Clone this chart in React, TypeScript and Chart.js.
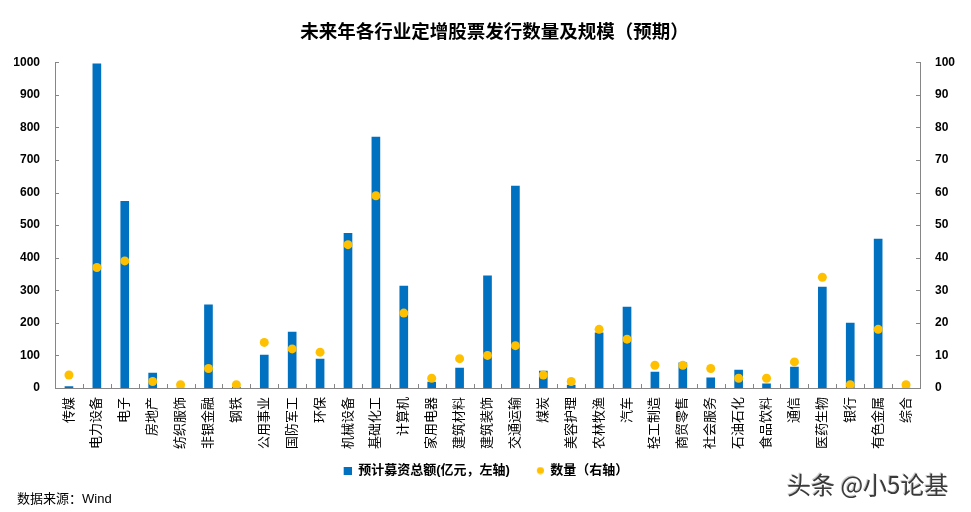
import React, { useEffect, useRef } from 'react';
import { Chart, registerables } from 'chart.js';

Chart.register(...registerables);

const TITLE = '未来年各行业定增股票发行数量及规模（预期）';
const categories = ['传媒', '电力设备', '电子', '房地产', '纺织服饰', '非银金融', '钢铁', '公用事业', '国防军工', '环保', '机械设备', '基础化工', '计算机', '家用电器', '建筑材料', '建筑装饰', '交通运输', '煤炭', '美容护理', '农林牧渔', '汽车', '轻工制造', '商贸零售', '社会服务', '石油石化', '食品饮料', '通信', '医药生物', '银行', '有色金属', '综合'];
const amounts = [4, 995, 573, 46, 0, 255, 3, 101, 172, 89, 475, 770, 313, 18, 61, 344, 620, 52, 9, 169, 248, 49, 77, 31, 55, 13, 64, 310, 199, 457, 0];
const counts = [4, 37, 39, 2, 1, 6, 1, 14, 12, 11, 44, 59, 23, 3, 9, 10, 13, 4, 2, 18, 15, 7, 7, 6, 3, 3, 8, 34, 1, 18, 1];
const amountLabel = '预计募资总额(亿元，左轴)';
const countLabel = '数量（右轴）';
const leftMax = 1000;
const leftStep = 100;
const rightMax = 100;
const rightStep = 10;

const BLUE = '#0070C0';
const YELLOW = '#FFC000';
const AXIS = '#868686';
const FONT = "'Liberation Sans', Arial, 'Noto Sans CJK SC', sans-serif";
const ICON_W = 21;

function makeIcon(kind: 'rect' | 'circle') {
  const c = document.createElement('canvas');
  const s = kind === 'rect' ? 8 : 7;
  c.width = ICON_W;
  c.height = 8;
  const ctx = c.getContext('2d')!;
  if (kind === 'rect') {
    ctx.fillStyle = BLUE;
    ctx.fillRect(ICON_W - s, 0, s, s);
  } else {
    ctx.fillStyle = YELLOW;
    ctx.beginPath();
    ctx.arc(ICON_W - s / 2, 4, s / 2, 0, Math.PI * 2);
    ctx.fill();
  }
  return c;
}

const innerTicks = {
  id: 'innerTicks',
  afterLayout(chart: any) {
    if (chart.legend) {
      chart.legend.left -= 6;
      chart.legend.right -= 6;
    }
    if (chart.titleBlock) {
      chart.titleBlock.left += 9;
      chart.titleBlock.right += 9;
    }
  },
  afterDraw(chart: any) {
    const { ctx, chartArea, scales } = chart;
    ctx.save();
    ctx.strokeStyle = AXIS;
    ctx.lineWidth = 1;
    ctx.beginPath();
    const x = scales.x;
    for (let i = 0; i <= categories.length; i++) {
      const px = Math.round(x.getPixelForValue(i - 0.5)) + 0.5;
      ctx.moveTo(px, chartArea.bottom);
      ctx.lineTo(px, chartArea.bottom - 4);
    }
    const yl = scales.y;
    yl.ticks.forEach((t: any) => {
      const py = Math.round(yl.getPixelForValue(t.value)) + 0.5;
      ctx.moveTo(chartArea.left, py);
      ctx.lineTo(chartArea.left + 4, py);
    });
    const yr = scales.y1;
    yr.ticks.forEach((t: any) => {
      const py = Math.round(yr.getPixelForValue(t.value)) + 0.5;
      ctx.moveTo(chartArea.right, py);
      ctx.lineTo(chartArea.right - 4, py);
    });
    ctx.stroke();
    ctx.restore();
  },
};

export default function App() {
  const ref = useRef<HTMLCanvasElement | null>(null);

  useEffect(() => {
    document.body.style.margin = '0';
    if (!ref.current) return;
    const sq = makeIcon('rect');
    const dot = makeIcon('circle');
    const chart = new Chart(ref.current, {
      type: 'bar',
      data: {
        labels: categories,
        datasets: [
          {
            type: 'line',
            label: countLabel,
            data: counts,
            yAxisID: 'y1',
            showLine: false,
            pointRadius: 4.5,
            pointHoverRadius: 4.5,
            pointBackgroundColor: YELLOW,
            pointBorderWidth: 0,
            borderColor: YELLOW,
            backgroundColor: YELLOW,
            order: 0,
          } as any,
          {
            type: 'bar',
            label: amountLabel,
            data: amounts,
            yAxisID: 'y',
            backgroundColor: BLUE,
            barThickness: 8,
            order: 1,
          },
        ],
      },
      options: {
        responsive: false,
        animation: false,
        layout: { padding: { left: 0, right: 0, top: 0, bottom: 25 } },
        plugins: {
          title: {
            display: true,
            text: TITLE,
            color: '#000',
            font: { family: FONT, size: 18.5, weight: 'bold' },
            padding: { top: 22, bottom: 18 },
          },
          legend: {
            position: 'bottom',
            reverse: true,
            labels: {
              usePointStyle: true,
              boxWidth: 8,
              boxHeight: 8,
              pointStyleWidth: ICON_W,
              padding: 13,
              color: '#000',
              font: { family: FONT, size: 13, weight: 'bold' },
              generateLabels: (c: any) => {
                const items = Chart.defaults.plugins.legend.labels.generateLabels(c);
                items.forEach((it: any) => {
                  it.pointStyle = it.datasetIndex === 1 ? sq : dot;
                });
                return items;
              },
            },
          },
          tooltip: { enabled: false },
        },
        scales: {
          x: {
            grid: { display: false, drawTicks: false },
            border: { display: true, color: AXIS },
            ticks: {
              autoSkip: false,
              minRotation: 90,
              maxRotation: 90,
              padding: 9,
              color: '#000',
              font: { family: FONT, size: 13 },
            },
            afterFit: (s: any) => {
              s.height = 63;
            },
          },
          y: {
            position: 'left',
            min: 0,
            max: leftMax,
            grid: { display: false, drawTicks: false },
            border: { display: true, color: AXIS },
            ticks: {
              stepSize: leftStep,
              padding: 15,
              color: '#000',
              font: { family: FONT, size: 12, weight: 'bold' },
              callback: (v: any) => String(v),
            },
            afterFit: (s: any) => {
              s.width = 55;
            },
          },
          y1: {
            position: 'right',
            min: 0,
            max: rightMax,
            grid: { display: false, drawTicks: false },
            border: { display: true, color: AXIS },
            ticks: {
              stepSize: rightStep,
              padding: 15,
              color: '#000',
              font: { family: FONT, size: 12, weight: 'bold' },
              callback: (v: any) => String(v),
            },
            afterFit: (s: any) => {
              s.width = 51;
            },
          },
        },
      },
      plugins: [innerTicks],
    });
    return () => chart.destroy();
  }, []);

  return (
    <div style={{ position: 'relative', width: 971, height: 512, background: '#fff' }}>
      <canvas ref={ref} width={971} height={512} style={{ display: 'block' }} />
      <div
        style={{
          position: 'absolute',
          left: 17,
          top: 491,
          fontFamily: FONT,
          fontSize: 13,
          lineHeight: '16px',
          color: '#000',
          whiteSpace: 'nowrap',
        }}
      >
        数据来源：Wind
      </div>
      <div
        style={{
          position: 'absolute',
          left: 787,
          top: 471,
          fontFamily: "'Noto Sans CJK SC', sans-serif",
          fontSize: 24,
          lineHeight: '26px',
          color: '#3a3a3a',
          textShadow: '1px 1px 0 #fff, -1px -1px 0 #ccc',
          whiteSpace: 'nowrap',
        }}
      >
        头条 @小5论基
      </div>
    </div>
  );
}
